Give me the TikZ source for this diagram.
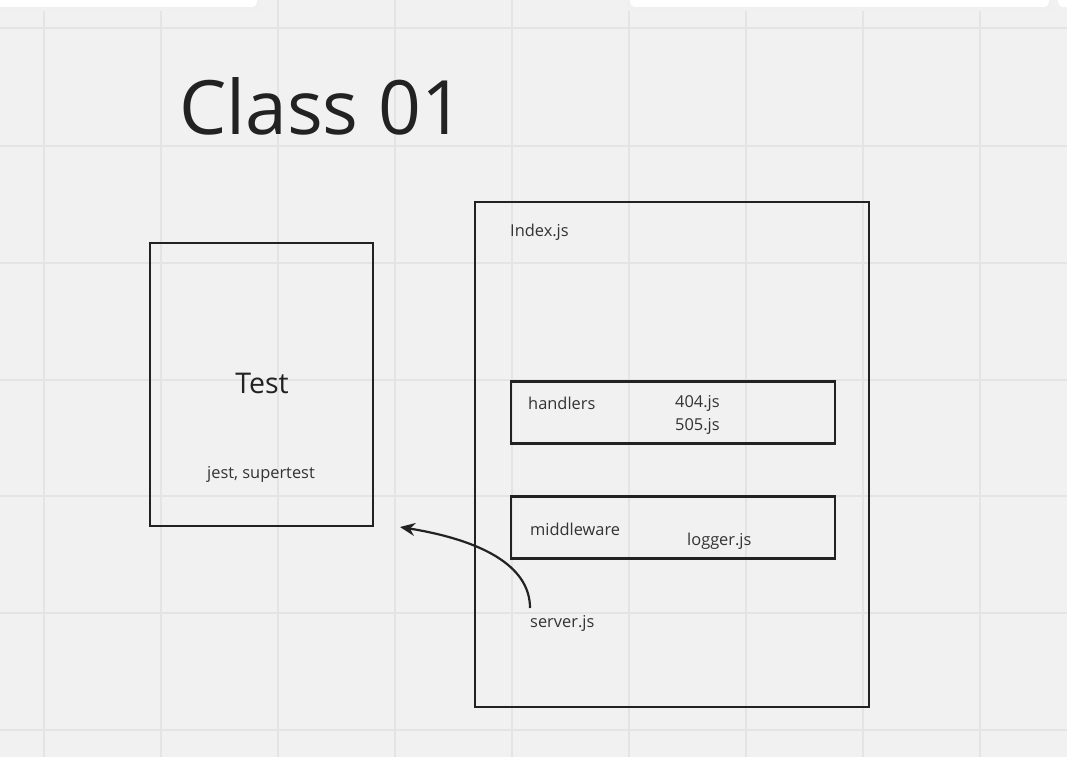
\documentclass[tikz,border=0pt]{standalone}
\usepackage{fontspec}
\setmainfont{Open Sans}
\usetikzlibrary{arrows.meta}
\definecolor{bg}{HTML}{F1F1F1}
\definecolor{gridc}{HTML}{E4E4E4}
\definecolor{ink}{HTML}{222222}
\definecolor{txt}{HTML}{333333}
\tikzset{
  box/.style={draw=ink, line width=2.2pt},
  lbl/.style={text=txt, font=\fontsize{16.4}{19}\selectfont, inner sep=0pt},
  gridline/.style={draw=gridc, line width=1.5pt},
}
\begin{document}
\begin{tikzpicture}[x=1pt,y=-1pt]
\useasboundingbox (0,0) rectangle (1067,757);
\fill[bg] (0,0) rectangle (1067,757);
% grid
\foreach \x in {44,161,278,395,512,629,746,863,980} \draw[gridline] (\x,0) -- (\x,757);
\foreach \y in {28,146,263,380,496,613,730} \draw[gridline] (0,\y) -- (1067,\y);
% toolbar remnants
\fill[black!6] (-10,-5) rectangle (261,11);
\fill[white, rounded corners=5pt] (-10,-10) rectangle (257,7);
\fill[black!6] (626,-5) rectangle (1053,11);
\fill[white, rounded corners=5pt] (630,-10) rectangle (1049,7);
\fill[white, rounded corners=5pt] (1058,-10) rectangle (1080,7);
% title
\node[anchor=base west, inner sep=0pt, text=ink, font=\fontsize{75}{90}\selectfont] (title) at (179,134) {Class 01};
% Test box
\draw[box] (150,243) rectangle (373,526);
\node[text=ink, font=\fontsize{28.5}{32}\selectfont, inner sep=0pt] (test) at (262,383.5) {Test};
\node[lbl] (jest) at (261,474) {jest, supertest};
% Index box
\draw[box] (475,202) rectangle (869,707);
\node[lbl, anchor=west] (index) at (510,232) {Index.js};
\draw[box] (511,381.5) rectangle (835,443.5);
\node[lbl, anchor=west] (handlers) at (528,403) {handlers};
\node[lbl, anchor=west] (f404) at (675,403) {404.js};
\node[lbl, anchor=west] (f505) at (675,426) {505.js};
\draw[box] (511,496.5) rectangle (835,558.5);
\node[lbl, anchor=west] (middleware) at (530,529) {middleware};
\node[lbl, anchor=west] (logger) at (687,541) {logger.js};
\node[lbl, anchor=west] (server) at (530,623) {server.js};
\coordinate (arrS) at (530,608);
\coordinate (arrE) at (400,527);
\draw[ink, line width=2.2pt, -{Stealth[length=15pt,width=13pt]}] (arrS) .. controls (530,565) and (480,540) .. (arrE);
\end{tikzpicture}
\end{document}
